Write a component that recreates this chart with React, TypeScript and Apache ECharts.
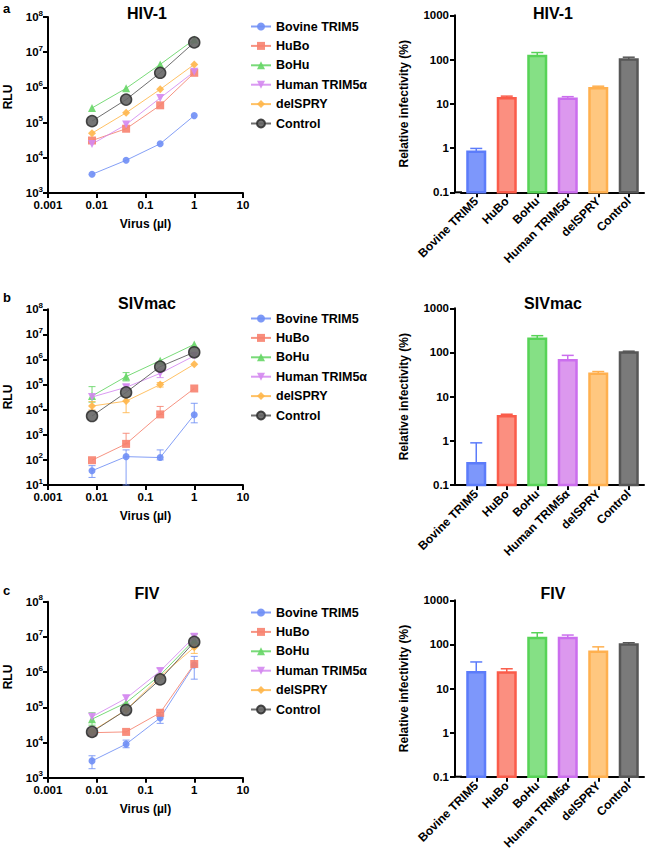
import React, { useEffect, useRef } from 'react';
import * as echarts from 'echarts';

// ---------- data ----------
const doses = [0.008, 0.04, 0.2, 1];
const constructs = ['Bovine TRIM5', 'HuBo', 'BoHu', 'Human TRIM5α', 'delSPRY', 'Control'];
const viruses = ['HIV-1', 'SIVmac', 'FIV'];
const panelLetters = ['a', 'b', 'c'];
const xTickLabels = ['0.001', '0.01', '0.1', '1', '10'];
const barTickLabels = ['0.1', '1', '10', '100', '1000'];

// RLU per construct (rows) at each dose (columns)
const hiv1Rlu = [
  [3400, 8500, 25000, 158000],
  [31000, 67000, 310000, 2600000],
  [260000, 940000, 4500000, 23000000],
  [24500, 88000, 500000, 2800000],
  [50000, 190000, 880000, 4500000],
  [110000, 450000, 2600000, 19000000],
];
const sivRlu = [
  [37, 135, 124, 6300],
  [97, 435, 6500, 70000],
  [35000, 210000, 900000, 4000000],
  [32000, 78000, 280000, 1400000],
  [14000, 22000, 100000, 650000],
  [5600, 49000, 520000, 1950000],
];
const fivRlu = [
  [3000, 9000, 50000, 1600000],
  [19000, 20000, 70000, 1700000],
  [46000, 135000, 820000, 8200000],
  [54000, 180000, 1070000, 10000000],
  [21000, 84000, 740000, 5100000],
  [20000, 84000, 620000, 7200000],
];

// error bars: [constructIndex, doseIndex, low, high]
const hiv1RluErr: number[][] = [];
const sivRluErr = [
  [0, 0, 20, 59], [0, 1, 10, 250], [0, 2, 100, 250], [0, 3, 3000, 18000],
  [1, 1, 435, 1150], [1, 2, 6500, 13500],
  [2, 0, 20000, 83000], [2, 1, 140000, 300000],
  [3, 1, 60000, 100000], [3, 2, 190000, 420000],
  [4, 0, 9800, 21000], [4, 1, 7600, 33000], [4, 2, 80000, 120000],
];
const fivRluErr = [
  [0, 0, 1800, 4200], [0, 1, 7100, 11700], [0, 2, 35000, 71000], [0, 3, 630000, 2800000],
  [1, 2, 55000, 85000],
  [2, 0, 31000, 70000], [2, 3, 6000000, 12000000],
  [3, 1, 130000, 220000], [3, 2, 850000, 1270000], [3, 3, 8000000, 12700000],
  [4, 3, 3400000, 7000000],
];

// relative infectivity (%) and upper error bar
const hiv1Bar = [0.83, 13.4, 121, 13, 22.6, 100];
const hiv1BarErr = [0.98, 14.9, 144, 14.5, 25, 113];
const sivBar = [0.31, 3.6, 205, 67, 33, 100];
const sivBarErr = [0.9, 4.0, 240, 86, 37, 107];
const fivBar = [23.5, 23, 139, 139, 68, 100];
const fivBarErr = [40, 28, 184, 163, 88, 109];

// ---------- styling ----------
const FONT = '"Liberation Sans", Arial, Helvetica, sans-serif';
const lineColors = ['#6f8ef5', '#f5806c', '#62d462', '#d488f0', '#ffb64a', '#555555'];
const markerColors = ['#6f8ef5', '#f7826f', '#66d666', '#d488f0', '#ffb64a', '#666666'];
const symbols = ['circle', 'rect', 'triangle', 'triangle', 'diamond', 'circle'];
const symbolRotates = [0, 0, 0, 180, 0, 0];
const symbolSizes = [7, 8, 8, 8, 8, 11];
const barFills = ['#7d97fb', '#fb8f80', '#85e085', '#dc98ee', '#ffc77f', '#7a7a7a'];
const barStrokes = ['#5c7cfa', '#fa5c4a', '#57d357', '#cb6eee', '#ffb04f', '#575757'];

const layout = [
  { lineTop: 17, lineBottom: 193, yMin: 1e3, barTop: 15.3, barBottom: 192.3, title: 13, rlu: 97, letter: 8, legendTop: 15 },
  { lineTop: 309.3, lineBottom: 485, yMin: 1e1, barTop: 308.3, barBottom: 485, title: 303, rlu: 397, letter: 297, legendTop: 307 },
  { lineTop: 601.7, lineBottom: 777.7, yMin: 1e3, barTop: 600.3, barBottom: 776.7, title: 593, rlu: 677, letter: 590, legendTop: 601 },
];

const rluSets = [hiv1Rlu, sivRlu, fivRlu];
const errSets = [hiv1RluErr, sivRluErr, fivRluErr];
const barSets = [hiv1Bar, sivBar, fivBar];
const barErrSets = [hiv1BarErr, sivBarErr, fivBarErr];

const boldText = { color: '#000', fontWeight: 'bold' as const, fontFamily: FONT };

function buildOption() {
  const grid: any[] = [];
  const xAxis: any[] = [];
  const yAxis: any[] = [];
  const series: any[] = [];
  const legend: any[] = [];
  const graphic: any[] = [];

  layout.forEach((L, r) => {
    const li = r * 2;
    const bi = r * 2 + 1;
    grid.push({ left: 48, top: L.lineTop, width: 195, height: L.lineBottom - L.lineTop });
    grid.push({ left: 461, top: L.barTop, width: 183, height: L.barBottom - L.barTop });

    // line chart axes
    xAxis.push({
      type: 'log', logBase: 10, gridIndex: li, min: 0.001, max: 10, splitNumber: 4,
      axisLine: { show: true, lineStyle: { color: '#000', width: 2 } },
      axisTick: { show: true, length: 5, lineStyle: { color: '#000', width: 2 } },
      minorTick: { show: false },
      splitLine: { show: false },
      axisLabel: {
        ...boldText, fontSize: 11.5, margin: 6,
        formatter: (v: number) => xTickLabels[Math.round(Math.log10(v)) + 3],
      },
      name: 'Virus (µl)', nameLocation: 'middle', nameGap: 25,
      nameTextStyle: { ...boldText, fontSize: 12 },
    });
    const decades = Math.round(8 - Math.log10(L.yMin));
    yAxis.push({
      type: 'log', logBase: 10, gridIndex: li, min: L.yMin, max: 1e8, splitNumber: decades,
      axisLine: { show: true, lineStyle: { color: '#000', width: 2 } },
      axisTick: { show: true, length: 5, lineStyle: { color: '#000', width: 2 } },
      minorTick: { show: false },
      splitLine: { show: false },
      axisLabel: {
        ...boldText, fontSize: 11.5, margin: 5, lineHeight: 16,
        formatter: (v: number) => '10{s|' + Math.round(Math.log10(v)) + '}',
        rich: { s: { ...boldText, fontSize: 8, lineHeight: 7, verticalAlign: 'top' } },
      },
    });

    // bar chart axes
    xAxis.push({
      type: 'category', gridIndex: bi, data: constructs, boundaryGap: true,
      axisLine: { show: true, lineStyle: { color: '#000', width: 2 } },
      axisTick: { show: true, alignWithLabel: true, length: 5, lineStyle: { color: '#000', width: 2 } },
      axisLabel: { ...boldText, fontSize: 12, rotate: 45, interval: 0, margin: 7 },
    });
    yAxis.push({
      type: 'log', logBase: 10, gridIndex: bi, min: 0.1, max: 1000, splitNumber: 4, offset: 6,
      axisLine: { show: true, lineStyle: { color: '#000', width: 2 } },
      axisTick: { show: true, length: 5, lineStyle: { color: '#000', width: 2 } },
      minorTick: { show: false },
      splitLine: { show: false },
      axisLabel: {
        ...boldText, fontSize: 11.5, margin: 6,
        formatter: (v: number) => barTickLabels[Math.round(Math.log10(v)) + 1],
      },
      name: 'Relative infectivity (%)', nameLocation: 'middle', nameGap: 45,
      nameTextStyle: { ...boldText, fontSize: 12 },
    });

    // error bars for line chart
    const errs = errSets[r];
    if (errs.length) {
      series.push({
        type: 'custom', xAxisIndex: li, yAxisIndex: li, z: 1,
        data: errs.map((e) => [doses[e[1]], e[2], e[3], e[0]]),
        encode: { x: 0, y: [1, 2] },
        renderItem: (params: any, api: any) => {
          const x = api.value(0);
          const pLo = api.coord([x, api.value(1)]);
          const pHi = api.coord([x, api.value(2)]);
          const c = lineColors[api.value(3)];
          const st = { stroke: c, lineWidth: 1, opacity: 0.85 };
          return {
            type: 'group',
            children: [
              { type: 'line', shape: { x1: pLo[0], y1: pLo[1], x2: pHi[0], y2: pHi[1] }, style: st },
              { type: 'line', shape: { x1: pHi[0] - 3.5, y1: pHi[1], x2: pHi[0] + 3.5, y2: pHi[1] }, style: st },
              { type: 'line', shape: { x1: pLo[0] - 3.5, y1: pLo[1], x2: pLo[0] + 3.5, y2: pLo[1] }, style: st },
            ],
          };
        },
        silent: true,
      });
    }

    // lines
    rluSets[r].forEach((vals, s) => {
      series.push({
        type: 'line', name: constructs[s], xAxisIndex: li, yAxisIndex: li, z: 3,
        data: doses.map((d, j) => [d, vals[j]]),
        symbol: symbols[s], symbolSize: symbolSizes[s], symbolRotate: symbolRotates[s],
        showSymbol: true,
        lineStyle: { color: lineColors[s], width: 1, opacity: 0.85 },
        itemStyle: {
          color: markerColors[s],
          borderColor: s === 5 ? '#333333' : markerColors[s],
          borderWidth: s === 5 ? 1.5 : 0,
          opacity: 0.9,
        },
        emphasis: { disabled: true },
      });
    });

    // bars
    const bars = barSets[r];
    const berr = barErrSets[r];
    series.push({
      type: 'custom', xAxisIndex: bi, yAxisIndex: bi,
      data: bars.map((v, i) => [i, v, berr[i]]),
      encode: { x: 0, y: [1, 2] },
      renderItem: (params: any, api: any) => {
        const i = api.value(0);
        const top = api.coord([i, api.value(1)]);
        const base = api.coord([i, 0.1]);
        const ep = api.coord([i, api.value(2)]);
        const bw = api.size([1, 1])[0] * 0.575;
        const k = params.dataIndex;
        const st = { stroke: barStrokes[k], lineWidth: 1.5 };
        return {
          type: 'group',
          children: [
            { type: 'line', shape: { x1: top[0], y1: top[1], x2: ep[0], y2: ep[1] }, style: st },
            { type: 'line', shape: { x1: ep[0] - 6, y1: ep[1], x2: ep[0] + 6, y2: ep[1] }, style: st },
            {
              type: 'rect',
              shape: { x: top[0] - bw / 2, y: top[1], width: bw, height: base[1] - top[1] },
              style: { fill: barFills[k], stroke: barStrokes[k], lineWidth: 2.5 },
            },
          ],
        };
      },
      silent: true,
    });

    legend.push({
      orient: 'vertical', left: 245, top: L.legendTop,
      itemWidth: 20, itemHeight: 10, itemGap: 6.4,
      data: constructs,
      textStyle: { ...boldText, fontSize: 12.5 },
      selectedMode: false,
    });

    // texts
    graphic.push({
      type: 'text', x: 3, y: L.letter,
      style: { text: panelLetters[r], fill: '#000', font: 'bold 13px ' + FONT, textAlign: 'left', textVerticalAlign: 'middle' },
    });
    graphic.push({
      type: 'text', x: 147, y: L.title,
      style: { text: viruses[r], fill: '#000', font: 'bold 16px ' + FONT, textAlign: 'center', textVerticalAlign: 'middle' },
    });
    graphic.push({
      type: 'text', x: 553, y: L.title,
      style: { text: viruses[r], fill: '#000', font: 'bold 16px ' + FONT, textAlign: 'center', textVerticalAlign: 'middle' },
    });
    graphic.push({
      type: 'text', x: 8, y: L.rlu, rotation: Math.PI / 2,
      style: { text: 'RLU', fill: '#000', font: 'bold 12px ' + FONT, textAlign: 'center', textVerticalAlign: 'middle' },
    });
    graphic.push({
      type: 'line', shape: { x1: 454, y1: L.barBottom, x2: 462, y2: L.barBottom },
      style: { stroke: '#000', lineWidth: 2 },
    });
  });

  return {
    animation: false,
    backgroundColor: '#ffffff',
    grid, xAxis, yAxis, series, legend, graphic,
  };
}

export default function App() {
  const ref = useRef<HTMLDivElement>(null);
  useEffect(() => {
    if (!ref.current) return;
    const chart = echarts.init(ref.current, undefined, { renderer: 'svg' });
    chart.setOption(buildOption() as any);
    return () => chart.dispose();
  }, []);
  return (
    <div
      ref={ref}
      style={{ position: 'absolute', left: 0, top: 0, width: 651, height: 859, background: '#fff' }}
    />
  );
}
